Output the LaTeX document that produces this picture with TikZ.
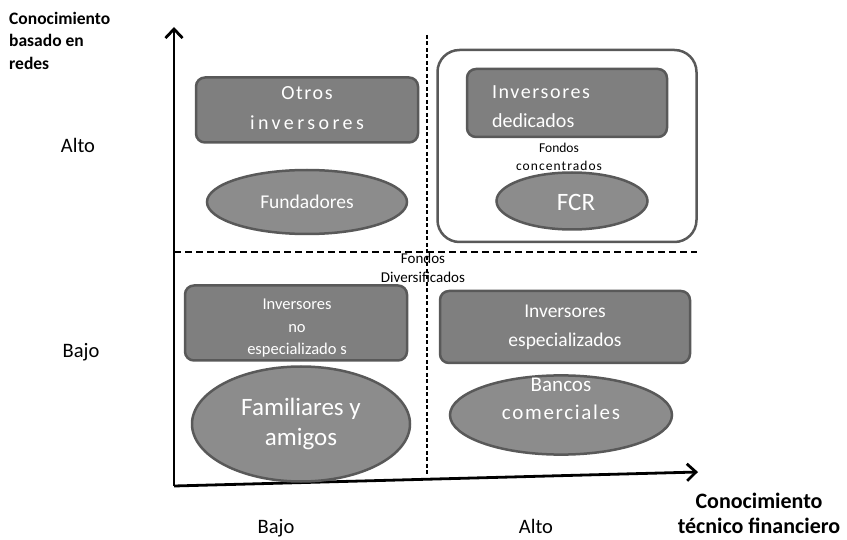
\documentclass[tikz,border=0pt]{standalone}
\usepackage{fontspec}
\setmainfont{Carlito}
\newfontfamily\spaced[LetterSpace=8]{Carlito}
\newfontfamily\wide[LetterSpace=17]{Carlito}
\usetikzlibrary{arrows.meta,shapes.geometric}
\definecolor{boxgray}{HTML}{7F7F7F}
\definecolor{ellgray}{HTML}{8C8C8C}
\definecolor{edgegray}{HTML}{595959}
% texto desplazado dentro de un nodo: dx, dy, alineacion, lineas
\newcommand\colocar[4]{\raisebox{#2}[\height][\depth]{\hspace*{#1}\begin{tabular}{@{}#3@{}}#4\end{tabular}\hspace*{-#1}}}
\tikzset{
  caja/.style={draw=edgegray, fill=boxgray, line width=2.5pt, rounded corners=9pt,
    text=white, align=center, inner sep=0pt},
  elipse/.style={ellipse, draw=edgegray, fill=ellgray, line width=2.5pt,
    text=white, align=center, inner sep=0pt},
  eje/.style={line width=2.8pt, -{Straight Barb[length=9pt,width=17pt]}},
  guia/.style={dash pattern=on 7pt off 4pt, line width=1.6pt},
  guiav/.style={dash pattern=on 4pt off 2.5pt, line width=1.6pt},
  rotulo/.style={font=\bfseries\fontsize{17.5}{22.5}\selectfont, align=left, inner sep=0pt},
  nivel/.style={font=\fontsize{20.5}{24}\selectfont, anchor=base, inner sep=0pt},
  nota/.style={font=\fontsize{13.5}{18}\selectfont, align=center, inner sep=0pt}
}

\begin{document}
\begin{tikzpicture}[x=1pt,y=-1pt]
\useasboundingbox (0,0) rectangle (847,540);

% guias
\draw[guiav] (427,35) -- (427,476);
\draw[guia] (174,252) -- (697,252);

% ejes
\coordinate (origen) at (174,486);
\coordinate (arriba) at (174,27);
\coordinate (derecha) at (698,472);
\draw[eje] (origen) -- (arriba);
\draw[eje] (origen) -- (derecha);

% rotulos de los ejes
\node[rotulo, anchor=north west] (redes) at (9,12) {Conocimiento\\basado en\\redes};
\node[rotulo, font=\bfseries\fontsize{22}{25}\selectfont, align=center] (tecnico) at (759,513) {Conocimiento\\técnico financiero};
\node[nivel] (altoy) at (78,153) {Alto};
\node[nivel] (bajoy) at (81,358) {Bajo};
\node[nivel] (bajox) at (276,533) {Bajo};
\node[nivel] (altox) at (536,533) {Alto};

% alto - bajo
\node[caja, minimum width=222pt, minimum height=65pt, font=\fontsize{20}{30}\selectfont] (otros) at (307,110)
  {\colocar{0pt}{1pt}{c}{{\spaced Otros}\\{\wide inversores}}};
\node[elipse, minimum width=200pt, minimum height=64pt, font=\fontsize{19.5}{22}\selectfont] (fundadores) at (307,202) {Fundadores};

% alto - alto
\node[draw=edgegray, line width=2.5pt, rounded corners=22pt, minimum width=259pt, minimum height=192pt] (concentrados) at (567,146) {};
\node[caja, minimum width=200pt, minimum height=68pt, font=\fontsize{20}{29}\selectfont] (dedicados) at (567,103)
  {\colocar{-26pt}{-4.5pt}{l}{{\spaced Inversores}\\dedicados}};
\node[nota] (fconc) at (559,157) {Fondos\\{\spaced concentrados}};
\node[elipse, minimum width=151pt, minimum height=57pt, font=\fontsize{25}{28}\selectfont] (fcr) at (572,201)
  {\colocar{4pt}{-4pt}{c}{FCR}};

% bajo
\node[nota, font=\fontsize{15}{19}\selectfont] (fdiv) at (423,268) {Fondos\\Diversificados};
\node[caja, minimum width=222pt, minimum height=75pt, font=\fontsize{16.5}{22.5}\selectfont] (noesp) at (296,323)
  {\colocar{1pt}{-5pt}{c}{Inversores\\no\\especializado s}};
\node[caja, minimum width=250pt, minimum height=72pt, font=\fontsize{19.5}{29}\selectfont] (esp) at (565,327) {Inversores\\especializados};
\node[elipse, minimum width=218pt, minimum height=115pt, font=\fontsize{25}{30}\selectfont] (familia) at (301,424) {Familiares y\\amigos};
\node[elipse, minimum width=222pt, minimum height=74pt, font=\fontsize{21}{28}\selectfont] (bancos) at (561,415)
  {\colocar{0pt}{15pt}{c}{Bancos\\{\spaced comerciales}}};
\end{tikzpicture}
\end{document}
